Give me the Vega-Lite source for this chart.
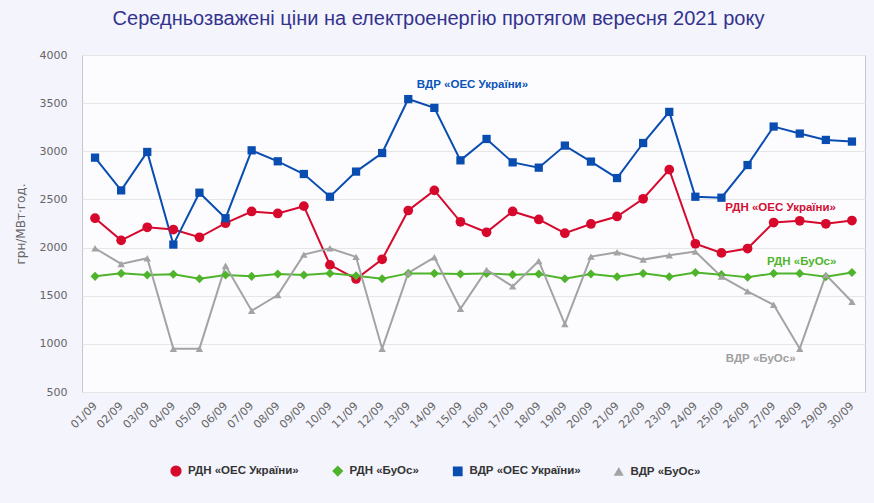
{
  "$schema": "https://vega.github.io/schema/vega-lite/v6.json",
  "width": 783,
  "height": 337,
  "autosize": {"type": "none"},
  "padding": {"left": 82, "top": 55, "right": 9, "bottom": 111},
  "background": "#f4f4fc",
  "title": {
    "text": "Середньозважені ціни на електроенергію протягом вересня 2021 року",
    "font": "Liberation Sans Narrow, Liberation Sans, sans-serif",
    "fontSize": 20,
    "fontWeight": "normal",
    "color": "#33338f",
    "anchor": "middle",
    "dx": -35,
    "offset": 20
  },
  "datasets": {
    "prices": [
      {"day":"01/09","series":"РДН «ОЕС України»","value":2305},
      {"day":"02/09","series":"РДН «ОЕС України»","value":2075},
      {"day":"03/09","series":"РДН «ОЕС України»","value":2211},
      {"day":"04/09","series":"РДН «ОЕС України»","value":2187},
      {"day":"05/09","series":"РДН «ОЕС України»","value":2107},
      {"day":"06/09","series":"РДН «ОЕС України»","value":2253},
      {"day":"07/09","series":"РДН «ОЕС України»","value":2375},
      {"day":"08/09","series":"РДН «ОЕС України»","value":2354},
      {"day":"09/09","series":"РДН «ОЕС України»","value":2430},
      {"day":"10/09","series":"РДН «ОЕС України»","value":1820},
      {"day":"11/09","series":"РДН «ОЕС України»","value":1674},
      {"day":"12/09","series":"РДН «ОЕС України»","value":1878},
      {"day":"13/09","series":"РДН «ОЕС України»","value":2385},
      {"day":"14/09","series":"РДН «ОЕС України»","value":2594},
      {"day":"15/09","series":"РДН «ОЕС України»","value":2268},
      {"day":"16/09","series":"РДН «ОЕС України»","value":2159},
      {"day":"17/09","series":"РДН «ОЕС України»","value":2375},
      {"day":"18/09","series":"РДН «ОЕС України»","value":2292},
      {"day":"19/09","series":"РДН «ОЕС України»","value":2149},
      {"day":"20/09","series":"РДН «ОЕС України»","value":2245},
      {"day":"21/09","series":"РДН «ОЕС України»","value":2323},
      {"day":"22/09","series":"РДН «ОЕС України»","value":2507},
      {"day":"23/09","series":"РДН «ОЕС України»","value":2809},
      {"day":"24/09","series":"РДН «ОЕС України»","value":2039},
      {"day":"25/09","series":"РДН «ОЕС України»","value":1945},
      {"day":"26/09","series":"РДН «ОЕС України»","value":1990},
      {"day":"27/09","series":"РДН «ОЕС України»","value":2260},
      {"day":"28/09","series":"РДН «ОЕС України»","value":2278},
      {"day":"29/09","series":"РДН «ОЕС України»","value":2247},
      {"day":"30/09","series":"РДН «ОЕС України»","value":2281},
      {"day":"01/09","series":"РДН «БуОс»","value":1701},
      {"day":"02/09","series":"РДН «БуОс»","value":1732},
      {"day":"03/09","series":"РДН «БуОс»","value":1716},
      {"day":"04/09","series":"РДН «БуОс»","value":1722},
      {"day":"05/09","series":"РДН «БуОс»","value":1677},
      {"day":"06/09","series":"РДН «БуОс»","value":1716},
      {"day":"07/09","series":"РДН «БуОс»","value":1701},
      {"day":"08/09","series":"РДН «БуОс»","value":1726},
      {"day":"09/09","series":"РДН «БуОс»","value":1716},
      {"day":"10/09","series":"РДН «БуОс»","value":1732},
      {"day":"11/09","series":"РДН «БуОс»","value":1708},
      {"day":"12/09","series":"РДН «БуОс»","value":1677},
      {"day":"13/09","series":"РДН «БуОс»","value":1732},
      {"day":"14/09","series":"РДН «БуОс»","value":1732},
      {"day":"15/09","series":"РДН «БуОс»","value":1726},
      {"day":"16/09","series":"РДН «БуОс»","value":1732},
      {"day":"17/09","series":"РДН «БуОс»","value":1719},
      {"day":"18/09","series":"РДН «БуОс»","value":1726},
      {"day":"19/09","series":"РДН «БуОс»","value":1677},
      {"day":"20/09","series":"РДН «БуОс»","value":1726},
      {"day":"21/09","series":"РДН «БуОс»","value":1698},
      {"day":"22/09","series":"РДН «БуОс»","value":1732},
      {"day":"23/09","series":"РДН «БуОс»","value":1698},
      {"day":"24/09","series":"РДН «БуОс»","value":1740},
      {"day":"25/09","series":"РДН «БуОс»","value":1719},
      {"day":"26/09","series":"РДН «БуОс»","value":1691},
      {"day":"27/09","series":"РДН «БуОс»","value":1732},
      {"day":"28/09","series":"РДН «БуОс»","value":1732},
      {"day":"29/09","series":"РДН «БуОс»","value":1698},
      {"day":"30/09","series":"РДН «БуОс»","value":1740},
      {"day":"01/09","series":"ВДР «ОЕС України»","value":2934},
      {"day":"02/09","series":"ВДР «ОЕС України»","value":2594},
      {"day":"03/09","series":"ВДР «ОЕС України»","value":2993},
      {"day":"04/09","series":"ВДР «ОЕС України»","value":2031},
      {"day":"05/09","series":"ВДР «ОЕС України»","value":2570},
      {"day":"06/09","series":"ВДР «ОЕС України»","value":2305},
      {"day":"07/09","series":"ВДР «ОЕС України»","value":3010},
      {"day":"08/09","series":"ВДР «ОЕС України»","value":2896},
      {"day":"09/09","series":"ВДР «ОЕС України»","value":2764},
      {"day":"10/09","series":"ВДР «ОЕС України»","value":2528},
      {"day":"11/09","series":"ВДР «ОЕС України»","value":2789},
      {"day":"12/09","series":"ВДР «ОЕС України»","value":2982},
      {"day":"13/09","series":"ВДР «ОЕС України»","value":3542},
      {"day":"14/09","series":"ВДР «ОЕС України»","value":3451},
      {"day":"15/09","series":"ВДР «ОЕС України»","value":2906},
      {"day":"16/09","series":"ВДР «ОЕС України»","value":3128},
      {"day":"17/09","series":"ВДР «ОЕС України»","value":2885},
      {"day":"18/09","series":"ВДР «ОЕС України»","value":2830},
      {"day":"19/09","series":"ВДР «ОЕС України»","value":3059},
      {"day":"20/09","series":"ВДР «ОЕС України»","value":2893},
      {"day":"21/09","series":"ВДР «ОЕС України»","value":2722},
      {"day":"22/09","series":"ВДР «ОЕС України»","value":3086},
      {"day":"23/09","series":"ВДР «ОЕС України»","value":3409},
      {"day":"24/09","series":"ВДР «ОЕС України»","value":2528},
      {"day":"25/09","series":"ВДР «ОЕС України»","value":2518},
      {"day":"26/09","series":"ВДР «ОЕС України»","value":2857},
      {"day":"27/09","series":"ВДР «ОЕС України»","value":3257},
      {"day":"28/09","series":"ВДР «ОЕС України»","value":3184},
      {"day":"29/09","series":"ВДР «ОЕС України»","value":3118},
      {"day":"30/09","series":"ВДР «ОЕС України»","value":3101},
      {"day":"01/09","series":"ВДР «БуОс»","value":1993},
      {"day":"02/09","series":"ВДР «БуОс»","value":1830},
      {"day":"03/09","series":"ВДР «БуОс»","value":1889},
      {"day":"04/09","series":"ВДР «БуОс»","value":950},
      {"day":"05/09","series":"ВДР «БуОс»","value":950},
      {"day":"06/09","series":"ВДР «БуОс»","value":1812},
      {"day":"07/09","series":"ВДР «БуОс»","value":1344},
      {"day":"08/09","series":"ВДР «БуОс»","value":1507},
      {"day":"09/09","series":"ВДР «БуОс»","value":1927},
      {"day":"10/09","series":"ВДР «БуОс»","value":1993},
      {"day":"11/09","series":"ВДР «БуОс»","value":1903},
      {"day":"12/09","series":"ВДР «БуОс»","value":950},
      {"day":"13/09","series":"ВДР «БуОс»","value":1736},
      {"day":"14/09","series":"ВДР «БуОс»","value":1899},
      {"day":"15/09","series":"ВДР «БуОс»","value":1365},
      {"day":"16/09","series":"ВДР «БуОс»","value":1768},
      {"day":"17/09","series":"ВДР «БуОс»","value":1597},
      {"day":"18/09","series":"ВДР «БуОс»","value":1861},
      {"day":"19/09","series":"ВДР «БуОс»","value":1205},
      {"day":"20/09","series":"ВДР «БуОс»","value":1906},
      {"day":"21/09","series":"ВДР «БуОс»","value":1951},
      {"day":"22/09","series":"ВДР «БуОс»","value":1875},
      {"day":"23/09","series":"ВДР «БуОс»","value":1920},
      {"day":"24/09","series":"ВДР «БуОс»","value":1958},
      {"day":"25/09","series":"ВДР «БуОс»","value":1698},
      {"day":"26/09","series":"ВДР «БуОс»","value":1545},
      {"day":"27/09","series":"ВДР «БуОс»","value":1406},
      {"day":"28/09","series":"ВДР «БуОс»","value":950},
      {"day":"29/09","series":"ВДР «БуОс»","value":1716},
      {"day":"30/09","series":"ВДР «БуОс»","value":1438}
    ],
    "labels": [
      {"day":"15/09","series":"ВДР «ОЕС України»","value":3690,"label":"ВДР «ОЕС України»"},
      {"day":"27/09","series":"РДН «ОЕС України»","value":2415,"label":"РДН «ОЕС України»"},
      {"day":"28/09","series":"РДН «БуОс»","value":1845,"label":"РДН «БуОс»"},
      {"day":"27/09","series":"ВДР «БуОс»","value":845,"label":"ВДР «БуОс»"}
    ]
  },
  "config": {
    "view": {"fill": "#fcfcff", "stroke": "#c8c8cc", "strokeWidth": 1},
    "axis": {"labelFont": "DejaVu Sans", "titleFont": "DejaVu Sans"},
    "legend": {"labelFont": "Liberation Sans", "titleFont": "Liberation Sans"}
  },
  "encoding": {
    "x": {
      "field": "day",
      "type": "ordinal",
      "sort": null,
      "scale": {"type": "point", "padding": 0.5},
      "axis": {
        "title": null,
        "labelAngle": -45,
        "labelAlign": "right",
        "labelBaseline": "middle",
        "labelFontSize": 11,
        "labelColor": "#666666",
        "labelPadding": 12,
        "ticks": false,
        "domain": false,
        "grid": false
      }
    },
    "y": {
      "field": "value",
      "type": "quantitative",
      "scale": {"domain": [500, 4000], "nice": false, "zero": false},
      "axis": {
        "title": "грн/МВт·год.",
        "titleFontSize": 12,
        "titleFontWeight": "normal",
        "titleColor": "#666666",
        "titlePadding": 12,
        "values": [500, 1000, 1500, 2000, 2500, 3000, 3500, 4000],
        "format": "d",
        "labelFontSize": 11,
        "labelColor": "#666666",
        "labelPadding": 15,
        "ticks": false,
        "domain": false,
        "grid": true,
        "gridColor": "#e6e6e6",
        "gridWidth": 1
      }
    }
  },
  "layer": [
    {
      "data": {"name": "prices"},
      "mark": {"type": "line", "strokeWidth": 2},
      "encoding": {
        "color": {
          "field": "series",
          "type": "nominal",
          "scale": {
            "domain": ["РДН «ОЕС України»", "РДН «БуОс»", "ВДР «ОЕС України»", "ВДР «БуОс»"],
            "range": ["#d6092d", "#4fb42b", "#0a4db0", "#a3a3a3"]
          },
          "legend": {
            "orient": "none",
            "direction": "horizontal",
            "legendX": 88,
            "legendY": 410,
            "title": null,
            "labelFontSize": 11.5,
            "labelFontWeight": "bold",
            "labelColor": "#333333",
            "columnPadding": 31,
            "symbolSize": 80,
            "labelOffset": 6
          }
        }
      }
    },
    {
      "data": {"name": "prices"},
      "mark": {"type": "point", "filled": true, "opacity": 1},
      "encoding": {
        "color": {"field": "series", "type": "nominal"},
        "shape": {
          "field": "series",
          "type": "nominal",
          "scale": {
            "domain": ["РДН «ОЕС України»", "РДН «БуОс»", "ВДР «ОЕС України»", "ВДР «БуОс»"],
            "range": ["circle", "diamond", "square", "triangle-up"]
          }
        },
        "size": {
          "field": "series",
          "type": "nominal",
          "scale": {
            "domain": ["РДН «ОЕС України»", "РДН «БуОс»", "ВДР «ОЕС України»", "ВДР «БуОс»"],
            "range": [95, 55, 115, 85]
          },
          "legend": null
        }
      }
    },
    {
      "data": {"name": "labels"},
      "transform": [{"filter": "datum.series === 'ВДР «ОЕС України»'"}],
      "mark": {"type": "text", "font": "Liberation Sans", "fontSize": 11.5, "fontWeight": "bold", "color": "#0a53b8", "dx": 12},
      "encoding": {"text": {"field": "label"}}
    },
    {
      "data": {"name": "labels"},
      "transform": [{"filter": "datum.series === 'РДН «ОЕС України»'"}],
      "mark": {"type": "text", "font": "Liberation Sans", "fontSize": 11.5, "fontWeight": "bold", "color": "#d20f33", "dx": 7},
      "encoding": {"text": {"field": "label"}}
    },
    {
      "data": {"name": "labels"},
      "transform": [{"filter": "datum.series === 'РДН «БуОс»'"}],
      "mark": {"type": "text", "font": "Liberation Sans", "fontSize": 11.5, "fontWeight": "bold", "color": "#4fb42b", "dx": 2},
      "encoding": {"text": {"field": "label"}}
    },
    {
      "data": {"name": "labels"},
      "transform": [{"filter": "datum.series === 'ВДР «БуОс»'"}],
      "mark": {"type": "text", "font": "Liberation Sans", "fontSize": 11.5, "fontWeight": "bold", "color": "#a0a0a0", "dx": -13},
      "encoding": {"text": {"field": "label"}}
    }
  ]
}
